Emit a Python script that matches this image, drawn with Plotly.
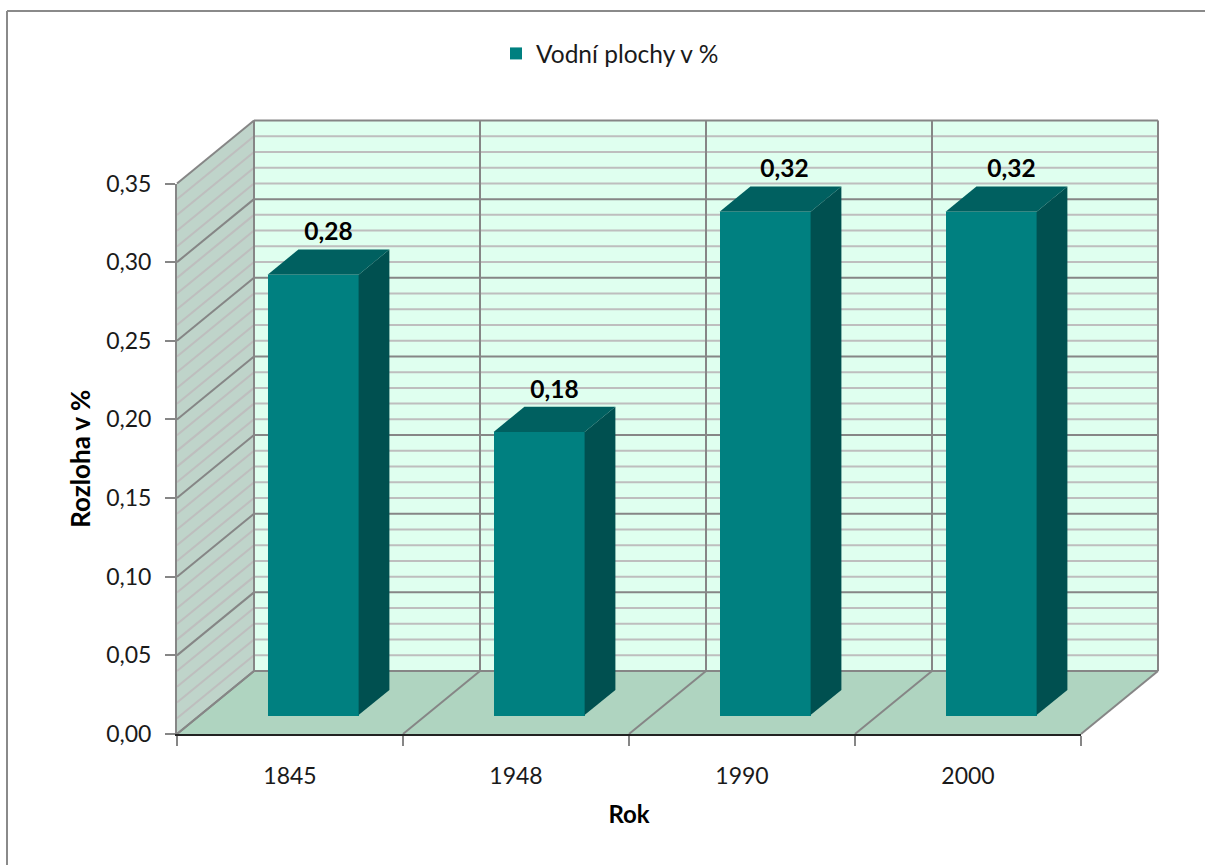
import plotly.graph_objects as go

# --- data ---
years = ["1845", "1948", "1990", "2000"]
values = [0.28, 0.18, 0.32, 0.32]
series_name = "Vodní plochy v %"
y_ticks = [0.00, 0.05, 0.10, 0.15, 0.20, 0.25, 0.30, 0.35]
minor_levels = [i / 100 for i in range(1, 35) if i % 5]
y_title = "Rozloha v %"
x_title = "Rok"

# --- pseudo-3D projection, in axis units ---
W, H = 1205, 865
L, RIGHT, TOP_PX, BOTTOM = 177, 1081, 183.5, 734
PX_X = (RIGHT - L) / 4
PX_Y = (BOTTOM - TOP_PX) / 0.35
DX = 77 / PX_X      # full depth, x shift
DY = 63 / PX_Y      # full depth, y shift
BAR_W = 91 / PX_X
D0, D1 = 0.30, 0.70  # bar's depth slice
X0, X1 = -0.5, 3.5
YMAX = 0.35
LABEL_GAP = 3 / PX_Y
LABEL_NUDGE_PX = [0, 0, 4, 5]

FRONT, TOP, SIDE = "#008080", "#006060", "#005050"
BACKWALL, SIDEWALL, FLOOR = "#DFFFEF", "#BFD4CA", "#AFD4C0"
MAJOR, MINOR = "#868686", "#BEBEBE"
TEXT = "#1a1a1a"
FONT = "Lato"


def poly(xs, ys, color, **kw):
    return go.Scatter(x=xs, y=ys, mode="lines", fill="toself", fillcolor=color,
                      line=dict(width=0, color=color), showlegend=False, hoverinfo="skip", **kw)


def lines(segments, color, width=2):
    xs, ys = [], []
    for (a, b), (c, d) in segments:
        xs += [a, c, None]
        ys += [b, d, None]
    return go.Scatter(x=xs, y=ys, mode="lines", line=dict(color=color, width=width),
                      showlegend=False, hoverinfo="skip")


fig = go.Figure()

# walls and floor (hidden full-page axes with the same scale, drawn below)
fig.add_trace(poly([X0 + DX, X1 + DX, X1 + DX, X0 + DX, X0 + DX],
                   [DY, DY, YMAX + DY, YMAX + DY, DY], BACKWALL))
fig.add_trace(poly([X0, X0 + DX, X0 + DX, X0, X0],
                   [0, DY, YMAX + DY, YMAX, 0], SIDEWALL))
fig.add_trace(poly([X0, X1, X1 + DX, X0 + DX, X0],
                   [0, 0, DY, DY, 0], FLOOR))

# minor gridlines (back wall + side wall)
minor_segs = []
for v in minor_levels:
    minor_segs.append(((X0, v), (X0 + DX, v + DY)))
    minor_segs.append(((X0 + DX, v + DY), (X1 + DX, v + DY)))
fig.add_trace(lines(minor_segs, MINOR))

# major gridlines and frame edges
major_segs = []
for v in y_ticks:
    major_segs.append(((X0, v), (X0 + DX, v + DY)))
    major_segs.append(((X0 + DX, v + DY), (X1 + DX, v + DY)))
for k in range(5):
    c = X0 + k
    major_segs.append(((c, 0), (c + DX, DY)))
    major_segs.append(((c + DX, DY), (c + DX, YMAX + DY)))
fig.add_trace(lines(major_segs, MAJOR))

# bar front faces (visible axes, drawn above the walls)
cats = list(range(len(years)))
fig.add_trace(go.Bar(x=[c + D0 * DX for c in cats], y=values, base=D0 * DY, width=BAR_W,
                     name=series_name, marker=dict(color=FRONT, line=dict(width=0)),
                     cliponaxis=False, xaxis="x2", yaxis="y2"))

# bar top and side faces
for c, v in zip(cats, values):
    xl, xr = c - BAR_W / 2, c + BAR_W / 2
    fig.add_trace(poly(
        [xl + D0 * DX, xr + D0 * DX, xr + D1 * DX, xl + D1 * DX, xl + D0 * DX],
        [v + D0 * DY, v + D0 * DY, v + D1 * DY, v + D1 * DY, v + D0 * DY],
        TOP, xaxis="x2", yaxis="y2"))
    fig.add_trace(poly(
        [xr + D0 * DX, xr + D1 * DX, xr + D1 * DX, xr + D0 * DX, xr + D0 * DX],
        [D0 * DY, D1 * DY, v + D1 * DY, v + D0 * DY, D0 * DY],
        SIDE, xaxis="x2", yaxis="y2"))

# value labels
fig.add_trace(go.Scatter(
    x=[c + 0.5 * DX + n / PX_X for c, n in zip(cats, LABEL_NUDGE_PX)],
    y=[v + D1 * DY + LABEL_GAP for v in values],
    mode="text", text=[f"{v:.2f}".replace(".", ",") for v in values],
    textposition="top center",
    textfont=dict(family=FONT, size=24.5, color="#000000", weight="bold"),
    showlegend=False, hoverinfo="skip", cliponaxis=False, xaxis="x2", yaxis="y2"))

fig.update_layout(
    width=W, height=H,
    margin=dict(l=0, r=0, t=0, b=0, autoexpand=False),
    paper_bgcolor="#ffffff", plot_bgcolor="rgba(0,0,0,0)",
    separators=", ",
    font=dict(family=FONT, size=23, color=TEXT),
    bargap=0,
    legend=dict(x=496 / W, y=1 - 31 / H, xanchor="left", yanchor="top",
                bgcolor="rgba(0,0,0,0)",
                font=dict(family=FONT, size=24.5, color=TEXT)),
    shapes=[
        dict(type="line", xref="paper", yref="paper", x0=7 / W, x1=1, y0=1 - 11 / H, y1=1 - 11 / H,
             line=dict(color="#8a8a8a", width=2)),
        dict(type="line", xref="paper", yref="paper", x0=7 / W, x1=7 / W, y0=1 - 11 / H, y1=0,
             line=dict(color="#8a8a8a", width=2)),
    ],
    # hidden page-sized axes sharing the scale of the visible ones
    xaxis=dict(domain=[0, 1], range=[X0 - L / PX_X, X0 + (W - L) / PX_X], visible=False),
    yaxis=dict(domain=[0, 1], range=[-(H - BOTTOM) / PX_Y, BOTTOM / PX_Y], visible=False),
    xaxis2=dict(domain=[L / W, RIGHT / W], anchor="y2", range=[X0, X1],
                tickmode="array", tickvals=cats, ticktext=years,
                ticks="", showgrid=False, zeroline=False, showline=True,
                linecolor="#222222", linewidth=2, ticklabelstandoff=20,
                minor=dict(ticks="outside", ticklen=10, tickwidth=2, tickcolor=MAJOR,
                           tickmode="array", tickvals=[X0 + k for k in range(5)],
                           showgrid=False),
                tickfont=dict(family=FONT, size=23, color=TEXT),
                title=dict(text=f"<b>{x_title}</b>", standoff=19,
                           font=dict(family=FONT, size=24, color="#000000"))),
    yaxis2=dict(domain=[1 - BOTTOM / H, 1 - TOP_PX / H], anchor="x2", range=[0, YMAX],
                tickmode="array", tickvals=y_ticks, tickformat=".2f",
                ticks="outside", ticklen=10, tickwidth=2, tickcolor=MAJOR,
                showgrid=False, zeroline=False, showline=True, linecolor=MAJOR, linewidth=2,
                ticklabelstandoff=9,
                tickfont=dict(family=FONT, size=23, color=TEXT),
                title=dict(text=f"<b>{y_title}</b>", standoff=8,
                           font=dict(family=FONT, size=26, color="#000000"))),
)

fig.write_html("out.html", config=dict(displayModeBar=False),
               post_script="document.body.style.margin='0';")
